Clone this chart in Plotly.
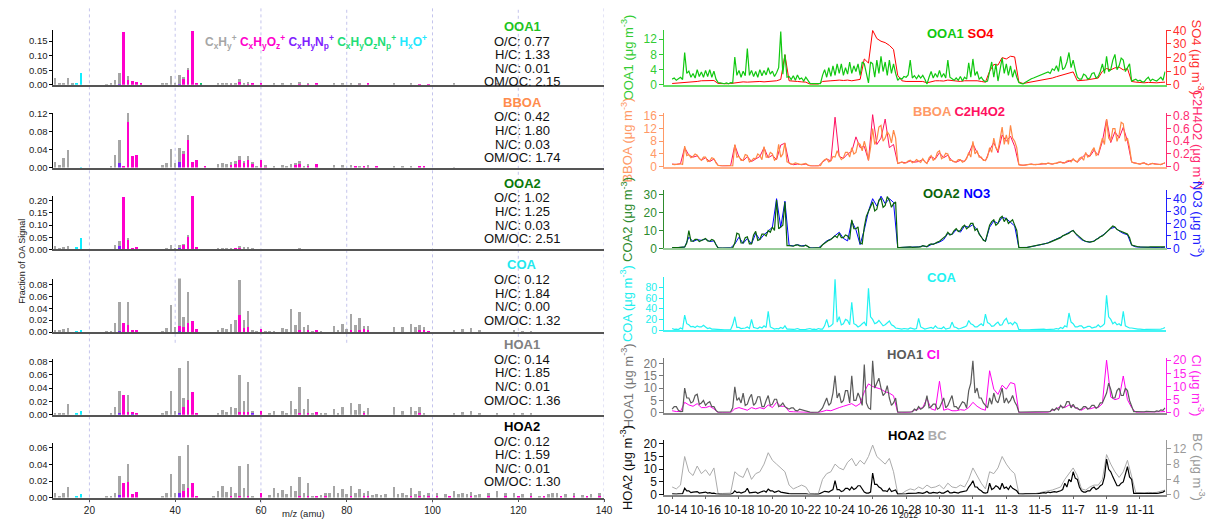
import plotly.graph_objects as go
import pandas as pd

W, H = 1218, 524


def fx(px):
    return px / W


def fy(py):
    return 1 - py / H


FONT = "Liberation Sans"

# ---------------- PMF factor mass spectra (fraction of OA signal) ----------------
# one dict per ion family, keyed by m/z
ooa1_cxhy = {12: 0.024, 13: 0.003, 14: 0.005, 15: 0.022, 16: 0.003, 24: 0.001, 25: 0.002, 26: 0.018,
             27: 0.040, 29: 0.013, 37: 0.002, 38: 0.003, 39: 0.030, 40: 0.003, 41: 0.030, 42: 0.007,
             43: 0.007, 50: 0.002, 51: 0.003, 52: 0.002, 53: 0.004, 54: 0.002, 55: 0.010, 56: 0.003,
             57: 0.004, 63: 0.005, 65: 0.003, 67: 0.004, 69: 0.004, 71: 0.003, 77: 0.003, 79: 0.003,
             81: 0.003, 83: 0.002, 91: 0.004, 95: 0.002, 105: 0.002, 115: 0.002}
ooa1_cxhyoz = {28: 0.180, 29: 0.018, 30: 0.014, 31: 0.010, 32: 0.002, 42: 0.020, 43: 0.050, 44: 0.185,
               45: 0.005, 46: 0.001, 53: 0.001, 55: 0.010, 57: 0.003, 58: 0.002, 60: 0.002, 69: 0.002,
               71: 0.002, 73: 0.002, 83: 0.001, 85: 0.002, 97: 0.001, 99: 0.001}
ooa1_cxhynp = {27: 0.002, 41: 0.004}
ooa1_cxhyoznp = {46: 0.001}
ooa1_hxo = {16: 0.001, 17: 0.008, 18: 0.040}

bboa_cxhy = {12: 0.012, 13: 0.005, 14: 0.022, 15: 0.039, 25: 0.002, 26: 0.029, 27: 0.051, 29: 0.021,
             37: 0.005, 38: 0.010, 39: 0.042, 40: 0.011, 41: 0.032, 42: 0.008, 43: 0.012, 50: 0.007,
             51: 0.011, 52: 0.008, 53: 0.007, 54: 0.004, 55: 0.011, 56: 0.004, 57: 0.010, 58: 0.002,
             59: 0.002, 61: 0.002, 63: 0.004, 65: 0.006, 66: 0.004, 67: 0.008, 68: 0.003, 69: 0.006,
             70: 0.003, 71: 0.004, 77: 0.006, 79: 0.005, 81: 0.005, 83: 0.003, 85: 0.002, 91: 0.004,
             93: 0.002, 95: 0.002, 105: 0.001}
bboa_cxhyoz = {28: 0.002, 29: 0.102, 30: 0.026, 31: 0.029, 42: 0.030, 43: 0.061, 44: 0.012, 45: 0.016,
               47: 0.002, 53: 0.005, 54: 0.010, 55: 0.016, 56: 0.011, 57: 0.017, 58: 0.010, 60: 0.016,
               61: 0.003, 68: 0.007, 69: 0.009, 71: 0.005, 73: 0.007, 82: 0.003, 84: 0.002, 85: 0.003,
               87: 0.002, 97: 0.002, 98: 0.002}
bboa_cxhynp = {27: 0.010, 41: 0.012}
bboa_cxhyoznp = {}
bboa_hxo = {18: 0.001}

ooa2_cxhy = {12: 0.013, 13: 0.005, 14: 0.010, 15: 0.015, 26: 0.017, 27: 0.018, 29: 0.005, 38: 0.005,
             39: 0.017, 40: 0.003, 41: 0.013, 42: 0.002, 43: 0.004, 50: 0.003, 51: 0.004, 52: 0.003,
             53: 0.004, 55: 0.003, 56: 0.003, 57: 0.004, 58: 0.002, 67: 0.001, 69: 0.002, 77: 0.001}
ooa2_cxhyoz = {28: 0.215, 29: 0.040, 30: 0.004, 31: 0.008, 42: 0.020, 43: 0.055, 44: 0.221, 45: 0.008,
               54: 0.003, 55: 0.010, 56: 0.004, 57: 0.004, 58: 0.003, 60: 0.002, 69: 0.002, 71: 0.001,
               73: 0.002, 85: 0.001, 97: 0.001}
ooa2_cxhynp = {27: 0.015, 30: 0.002, 41: 0.005}
ooa2_cxhyoznp = {46: 0.001, 80: 0.001}
ooa2_hxo = {17: 0.010, 18: 0.045}

coa_cxhy = {12: 0.003, 13: 0.003, 14: 0.005, 15: 0.007, 24: 0.002, 25: 0.002, 26: 0.015, 27: 0.050,
            29: 0.039, 37: 0.002, 38: 0.006, 39: 0.045, 40: 0.009, 41: 0.080, 42: 0.017, 43: 0.052,
            50: 0.004, 51: 0.007, 52: 0.005, 53: 0.014, 54: 0.020, 55: 0.060, 56: 0.014, 57: 0.028,
            58: 0.003, 59: 0.002, 61: 0.002, 62: 0.002, 63: 0.002, 65: 0.006, 66: 0.005, 67: 0.038,
            68: 0.012, 69: 0.030, 70: 0.009, 71: 0.008, 72: 0.002, 74: 0.002, 77: 0.010, 78: 0.004,
            79: 0.014, 80: 0.005, 81: 0.028, 82: 0.012, 83: 0.020, 84: 0.006, 85: 0.006, 91: 0.008,
            93: 0.008, 95: 0.014, 96: 0.008, 97: 0.009, 98: 0.004, 105: 0.004, 107: 0.005, 109: 0.006,
            111: 0.003, 119: 0.003, 121: 0.002, 123: 0.002}
coa_cxhyoz = {28: 0.015, 29: 0.012, 30: 0.003, 31: 0.004, 41: 0.008, 42: 0.009, 43: 0.015, 44: 0.019,
              45: 0.005, 55: 0.028, 56: 0.006, 57: 0.008, 60: 0.005, 69: 0.003, 71: 0.004, 73: 0.003,
              81: 0.003, 83: 0.004, 84: 0.005, 85: 0.004, 97: 0.003, 98: 0.004, 99: 0.002}
coa_cxhynp = {27: 0.001, 30: 0.001, 41: 0.002}
coa_cxhyoznp = {}
coa_hxo = {17: 0.002, 18: 0.003}

hoa1_cxhy = {12: 0.002, 13: 0.001, 14: 0.003, 15: 0.016, 25: 0.002, 26: 0.012, 27: 0.033, 29: 0.025,
             37: 0.002, 38: 0.005, 39: 0.035, 40: 0.006, 41: 0.067, 42: 0.014, 43: 0.058, 50: 0.003,
             51: 0.007, 52: 0.004, 53: 0.012, 54: 0.010, 55: 0.056, 56: 0.016, 57: 0.045, 58: 0.001,
             62: 0.002, 63: 0.006, 65: 0.006, 66: 0.003, 67: 0.020, 68: 0.009, 69: 0.038, 70: 0.008,
             71: 0.021, 72: 0.003, 74: 0.002, 75: 0.002, 77: 0.009, 78: 0.003, 79: 0.011, 81: 0.017,
             82: 0.007, 83: 0.016, 84: 0.003, 85: 0.010, 91: 0.011, 93: 0.006, 95: 0.012, 96: 0.005,
             97: 0.010, 98: 0.002, 105: 0.003, 107: 0.004, 109: 0.005, 111: 0.002, 115: 0.002,
             119: 0.002, 121: 0.001, 123: 0.001}
hoa1_cxhyoz = {28: 0.030, 29: 0.004, 30: 0.003, 31: 0.003, 42: 0.011, 43: 0.022, 44: 0.034, 45: 0.003,
               55: 0.004, 56: 0.004, 57: 0.004, 60: 0.006, 69: 0.003, 71: 0.003, 73: 0.004, 84: 0.003,
               97: 0.002}
hoa1_cxhynp = {27: 0.002, 30: 0.001, 41: 0.003, 58: 0.003}
hoa1_cxhyoznp = {}
hoa1_hxo = {17: 0.002, 18: 0.005}

hoa2_cxhy = {12: 0.006, 13: 0.002, 14: 0.006, 15: 0.013, 24: 0.001, 25: 0.001, 26: 0.006, 27: 0.023,
             29: 0.022, 37: 0.002, 38: 0.006, 39: 0.029, 40: 0.006, 41: 0.045, 42: 0.008, 43: 0.052,
             49: 0.001, 50: 0.008, 51: 0.014, 52: 0.007, 53: 0.011, 54: 0.005, 55: 0.036, 56: 0.011,
             57: 0.039, 58: 0.002, 62: 0.003, 63: 0.011, 64: 0.005, 65: 0.009, 66: 0.004, 67: 0.014,
             68: 0.008, 69: 0.023, 70: 0.006, 71: 0.016, 72: 0.002, 74: 0.003, 75: 0.004, 76: 0.005,
             77: 0.014, 78: 0.005, 79: 0.010, 80: 0.004, 81: 0.012, 82: 0.006, 83: 0.010, 84: 0.004,
             85: 0.006, 86: 0.003, 87: 0.004, 88: 0.003, 89: 0.004, 91: 0.013, 92: 0.004, 93: 0.006,
             94: 0.003, 95: 0.009, 96: 0.004, 97: 0.006, 98: 0.003, 99: 0.004, 101: 0.003, 103: 0.004,
             105: 0.008, 106: 0.004, 107: 0.006, 108: 0.004, 109: 0.005, 110: 0.003, 111: 0.004,
             113: 0.003, 115: 0.008, 117: 0.003, 119: 0.005, 121: 0.004, 123: 0.004, 125: 0.002,
             127: 0.004, 128: 0.005, 129: 0.006, 131: 0.004, 133: 0.004, 135: 0.003, 137: 0.004,
             139: 0.004}
hoa2_cxhyoz = {28: 0.017, 29: 0.019, 30: 0.004, 31: 0.007, 42: 0.008, 43: 0.012, 44: 0.018, 45: 0.002,
               53: 0.002, 55: 0.002, 57: 0.002, 60: 0.006, 69: 0.002, 71: 0.002, 73: 0.002, 75: 0.002,
               81: 0.002, 84: 0.002, 85: 0.002, 95: 0.002, 97: 0.002, 99: 0.002, 101: 0.002, 104: 0.002,
               109: 0.002, 113: 0.002, 117: 0.002, 120: 0.002, 123: 0.002, 126: 0.002, 130: 0.002,
               133: 0.002, 136: 0.002, 139: 0.002}
hoa2_cxhynp = {27: 0.003, 41: 0.005}
hoa2_cxhyoznp = {}
hoa2_hxo = {17: 0.001, 18: 0.004}

factor_names = ["OOA1", "BBOA", "OOA2", "COA", "HOA1", "HOA2"]
factor_colors = ["#1FC41F", "#FF8C4C", "#0A7A0A", "#22E8EE", "#808080", "#000000"]
oc_ratio = [0.77, 0.42, 1.02, 0.12, 0.14, 0.12]
hc_ratio = [1.33, 1.80, 1.25, 1.84, 1.85, 1.59]
nc_ratio = [0.01, 0.03, 0.03, 0.00, 0.01, 0.01]
omoc_ratio = [2.15, 1.74, 2.51, 1.32, 1.36, 1.30]

spectra = [
    (ooa1_hxo, ooa1_cxhynp, ooa1_cxhyoz, ooa1_cxhyoznp, ooa1_cxhy),
    (bboa_hxo, bboa_cxhynp, bboa_cxhyoz, bboa_cxhyoznp, bboa_cxhy),
    (ooa2_hxo, ooa2_cxhynp, ooa2_cxhyoz, ooa2_cxhyoznp, ooa2_cxhy),
    (coa_hxo, coa_cxhynp, coa_cxhyoz, coa_cxhyoznp, coa_cxhy),
    (hoa1_hxo, hoa1_cxhynp, hoa1_cxhyoz, hoa1_cxhyoznp, hoa1_cxhy),
    (hoa2_hxo, hoa2_cxhynp, hoa2_cxhyoz, hoa2_cxhyoznp, hoa2_cxhy),
]
# stacking order bottom -> top
family_colors = ["#10EEFF", "#7F22FF", "#FF00CC", "#00CC66", "#A6A6A6"]

# panel geometry: (pixel of zero line, pixel of top, y max, tick step)
spec_panels = [(80, 24, 0.187, 0.05), (165, 109, 0.122, 0.04), (249, 194, 0.22, 0.05),
               (334, 279, 0.0898, 0.02), (419, 362, 0.083, 0.02), (504, 448, 0.066, 0.02)]
spec_name_y = [20, 98, 181, 265, 347, 431]

# ---------------- time series ----------------
# factor concentrations: 3-hourly from 2012-10-14 00:00, one row per day
ooa1 = [[1.5, 1.8, 1.2, 1.6, 2.0, 1.4, 8.5, 3.0], [3.6, 2.0, 3.0, 1.8, 4.0, 2.2, 3.4, 2.0],
        [3.8, 2.2, 4.0, 2.0, 3.6, 1.5, 0.6, 0.5], [0.4, 0.3, 0.5, 0.3, 0.6, 0.5, 7.3, 2.5],
        [3.8, 2.0, 3.6, 2.4, 9.5, 2.5, 3.8, 2.2], [3.5, 2.0, 4.0, 2.4, 3.8, 2.6, 4.5, 2.8],
        [3.6, 2.2, 3.2, 4.5, 14.0, 2.8, 8.0, 2.0], [2.2, 1.4, 2.4, 1.2, 2.6, 1.5, 1.8, 1.0],
        [2.0, 1.2, 0.4, 0.3, 0.3, 0.2, 0.2, 0.3], [2.5, 4.0, 2.0, 4.5, 2.2, 5.0, 2.5, 5.5],
        [3.0, 5.5, 2.5, 4.5, 2.8, 6.0, 3.0, 5.0], [3.5, 5.5, 2.5, 6.0, 5.5, 3.0, 0.5, 6.0],
        [5.5, 2.0, 6.5, 3.0, 7.5, 3.5, 6.0, 2.5], [6.5, 3.0, 5.5, 3.0, 1.2, 1.8, 1.5, 2.2],
        [2.0, 2.6, 6.5, 1.8, 2.4, 1.6, 2.5, 1.8], [2.5, 1.5, 0.2, 2.0, 3.5, 1.8, 3.0, 2.0],
        [3.8, 2.0, 3.0, 1.8, 6.5, 2.0, 1.5, 1.2], [1.8, 1.2, 2.2, 1.0, 2.0, 1.5, 5.8, 2.0],
        [6.8, 2.5, 3.5, 1.5, 2.0, 1.2, 0.8, 1.0], [3.5, 6.0, 2.0, 5.5, 1.0, 4.5, 7.0, 3.0],
        [5.5, 2.5, 5.0, 2.0, 4.0, 2.0, 0.6, 0.4], [0.2, 0.6, 1.0, 1.4, 1.6, 1.8, 2.0, 2.4],
        [2.5, 2.8, 3.0, 3.2, 3.4, 3.0, 4.2, 3.8], [5.0, 3.5, 7.5, 4.0, 4.5, 6.0, 8.5, 4.5],
        [6.5, 4.0, 2.0, 1.5, 1.5, 2.8, 2.5, 1.5], [1.8, 3.0, 3.2, 1.8, 2.2, 3.5, 5.5, 3.0],
        [7.5, 3.5, 4.0, 6.5, 8.0, 4.0, 5.0, 7.0], [6.5, 3.5, 4.5, 5.5, 1.0, 1.2, 1.5, 1.0],
        [1.2, 0.8, 0.8, 1.5, 2.0, 1.0, 1.5, 1.2], [1.0, 1.5, 2.0, 1.2, 3.5]]
bboa = [[0.8, 0.6, 0.7, 0.9, 0.9, 0.7, 6.5, 3.5], [3.8, 2.8, 3.2, 4.0, 3.6, 2.5, 2.0, 3.0],
        [3.0, 1.6, 1.8, 2.8, 2.5, 1.2, 0.4, 0.3], [0.2, 0.2, 0.2, 0.3, 0.3, 0.2, 7.0, 3.0],
        [3.2, 2.0, 2.0, 3.8, 3.5, 1.5, 1.8, 2.6], [2.5, 4.0, 3.5, 2.2, 6.3, 3.0, 3.0, 4.5],
        [4.0, 2.0, 2.5, 7.0, 3.0, 4.0, 7.5, 1.5], [1.2, 0.8, 0.8, 1.2, 1.0, 0.7, 0.7, 0.9],
        [1.0, 0.5, 0.3, 0.2, 0.2, 0.2, 0.2, 0.3], [1.5, 2.2, 2.5, 1.5, 1.8, 3.2, 3.0, 5.0],
        [3.5, 2.2, 2.8, 4.5, 4.5, 3.0, 6.0, 4.0], [4.5, 7.5, 7.0, 5.0, 8.0, 5.5, 2.0, 6.0],
        [12.0, 7.0, 8.5, 12.5, 13.0, 8.0, 9.0, 11.0], [10.0, 7.5, 11.5, 9.0, 1.0, 1.2, 1.5, 1.0],
        [1.2, 1.8, 2.0, 1.2, 1.5, 2.2, 1.8, 1.3], [2.5, 1.5, 1.0, 2.8, 3.5, 2.0, 2.5, 4.5],
        [5.0, 2.5, 3.0, 4.2, 4.0, 2.0, 2.0, 1.5], [1.5, 2.2, 2.2, 1.4, 1.8, 2.5, 4.5, 3.0],
        [8.0, 4.0, 5.0, 3.0, 3.0, 2.0, 2.0, 3.0], [6.0, 4.5, 9.0, 6.0, 5.0, 8.5, 12.5, 7.0],
        [10.0, 7.0, 13.0, 9.0, 8.0, 6.0, 0.6, 0.5], [0.4, 0.5, 0.6, 0.7, 0.8, 0.6, 0.6, 0.7],
        [0.8, 1.0, 1.0, 0.8, 1.2, 0.9, 0.8, 1.0], [1.0, 1.4, 1.5, 1.1, 1.2, 1.8, 2.0, 1.5],
        [2.5, 1.8, 1.5, 2.6, 3.0, 2.0, 4.5, 3.0], [3.5, 5.0, 6.0, 3.5, 4.0, 6.5, 9.0, 7.0],
        [15.0, 9.0, 8.0, 12.0, 12.0, 8.0, 10.0, 14.0], [13.5, 8.0, 9.0, 6.0, 1.5, 1.2, 1.0, 0.9],
        [0.8, 1.1, 1.2, 0.7, 0.6, 0.9, 1.0, 0.8], [0.8, 0.6, 0.7, 1.0, 1.2]]
ooa2 = [[0.5, 0.4, 0.4, 0.5, 0.6, 0.5, 0.8, 3.0], [10.0, 4.0, 4.0, 5.0, 5.0, 3.8, 4.5, 5.0],
        [5.5, 4.2, 4.0, 5.0, 4.5, 2.0, 0.3, 0.2], [0.2, 0.2, 0.2, 0.2, 0.3, 0.3, 3.0, 8.5],
        [8.0, 3.0, 3.0, 6.0, 6.5, 2.5, 2.5, 7.5], [9.5, 4.5, 5.0, 8.0, 8.0, 7.0, 10.0, 9.0],
        [12.0, 10.0, 27.0, 11.0, 12.0, 13.0, 26.0, 1.5], [1.5, 1.2, 1.2, 1.8, 2.0, 1.4, 1.5, 1.2],
        [1.8, 1.0, 0.3, 0.2, 0.2, 0.2, 0.2, 0.5], [2.0, 3.0, 4.0, 4.5, 5.0, 6.0, 7.0, 6.0],
        [8.5, 6.0, 6.0, 7.5, 7.0, 5.0, 16.0, 11.0], [11.0, 12.0, 3.0, 2.5, 12.0, 18.0, 21.0, 24.0],
        [26.0, 21.0, 22.0, 27.0, 28.0, 23.0, 24.0, 29.0], [27.0, 23.0, 25.0, 26.0, 0.5, 0.5, 0.6, 0.6],
        [0.6, 0.7, 0.8, 0.6, 0.7, 0.9, 1.0, 0.8], [1.5, 1.2, 1.0, 2.0, 2.5, 2.2, 3.0, 3.5],
        [4.0, 5.0, 5.5, 7.0, 9.0, 7.5, 8.0, 10.0], [11.0, 9.5, 10.0, 12.0, 13.0, 11.0, 12.0, 14.0],
        [14.0, 10.0, 11.0, 8.0, 6.5, 4.5, 4.0, 8.0], [13.0, 15.0, 16.0, 13.0, 14.0, 17.0, 18.0, 15.0],
        [17.0, 14.0, 15.0, 16.0, 13.0, 10.0, 0.5, 0.4], [0.4, 0.5, 0.6, 0.8, 1.0, 1.2, 1.5, 1.8],
        [2.0, 2.2, 2.5, 2.8, 3.0, 3.5, 4.0, 4.5], [5.0, 5.5, 6.0, 7.0, 7.5, 8.0, 8.5, 9.5],
        [10.0, 8.5, 7.5, 6.0, 5.0, 4.5, 4.0, 3.8], [3.5, 3.8, 4.0, 5.0, 5.5, 6.5, 7.0, 8.0],
        [9.0, 10.5, 11.0, 12.5, 12.0, 10.5, 10.0, 9.5], [9.0, 8.5, 8.0, 6.0, 2.0, 1.5, 1.0, 0.9],
        [0.8, 0.7, 0.6, 0.6, 0.7, 0.8, 0.8, 0.7], [0.6, 0.5, 0.5, 0.7, 0.8]]
coa = [[3.0, 1.5, 2.0, 1.0, 4.0, 2.0, 28.0, 12.0], [10.0, 6.0, 7.0, 5.0, 8.0, 6.0, 6.0, 9.0],
       [6.0, 3.0, 4.0, 2.0, 2.0, 1.5, 1.0, 0.8], [0.5, 0.4, 0.5, 0.6, 0.8, 10.0, 25.0, 5.0],
       [5.0, 3.0, 3.5, 4.0, 6.0, 3.0, 20.0, 5.0], [4.0, 3.0, 6.0, 4.0, 8.0, 5.0, 35.0, 6.0],
       [4.0, 2.0, 3.0, 2.5, 5.0, 3.0, 8.0, 2.0], [2.0, 1.2, 1.5, 2.0, 3.0, 1.5, 1.0, 1.2],
       [1.5, 2.5, 3.0, 1.5, 2.0, 1.0, 3.0, 2.0], [2.0, 8.0, 20.0, 6.0, 8.0, 12.0, 95.0, 15.0],
       [25.0, 10.0, 12.0, 20.0, 18.0, 10.0, 52.0, 12.0], [10.0, 6.0, 8.0, 12.0, 15.0, 8.0, 78.0, 25.0],
       [20.0, 12.0, 14.0, 18.0, 12.0, 8.0, 10.0, 14.0], [17.0, 10.0, 8.0, 4.0, 3.0, 2.0, 2.0, 3.0],
       [3.0, 2.0, 4.0, 2.5, 2.0, 3.0, 22.0, 6.0], [4.0, 2.0, 3.0, 4.0, 5.0, 3.0, 8.0, 4.0],
       [4.0, 3.0, 6.0, 2.0, 3.0, 4.0, 15.0, 6.0], [5.0, 2.5, 3.0, 4.0, 6.0, 8.0, 18.0, 12.0],
       [10.0, 6.0, 6.0, 9.0, 12.0, 8.0, 30.0, 14.0], [12.0, 7.0, 8.0, 12.0, 15.0, 9.0, 10.0, 18.0],
       [22.0, 12.0, 14.0, 10.0, 15.0, 12.0, 1.0, 0.8], [0.5, 0.8, 1.0, 0.6, 0.8, 1.2, 1.5, 1.0],
       [1.0, 1.5, 2.0, 1.0, 1.0, 0.8, 0.8, 2.0], [3.0, 2.0, 5.0, 3.0, 8.0, 6.0, 32.0, 15.0],
       [12.0, 6.0, 6.0, 8.0, 8.0, 4.0, 5.0, 7.0], [7.0, 4.0, 5.0, 6.0, 10.0, 6.0, 8.0, 12.0],
       [65.0, 25.0, 20.0, 12.0, 15.0, 10.0, 12.0, 8.0], [35.0, 8.0, 6.0, 4.0, 4.0, 3.0, 3.0, 2.0],
       [2.0, 1.0, 1.0, 1.5, 1.5, 0.8, 0.8, 1.0], [1.0, 1.5, 2.0, 3.0, 5.0]]
hoa1 = [[1.5, 2.5, 2.5, 1.0, 0.5, 0.6, 10.0, 6.0], [6.0, 4.0, 4.5, 7.0, 7.5, 3.5, 4.0, 5.0],
        [3.0, 4.0, 4.5, 2.5, 2.5, 1.0, 0.3, 0.3], [0.3, 0.2, 0.2, 0.3, 0.4, 2.0, 10.5, 5.0],
        [6.0, 4.0, 8.0, 3.0, 3.5, 6.0, 7.5, 3.0], [4.0, 6.5, 6.5, 2.5, 2.5, 5.0, 7.0, 3.0],
        [3.5, 5.5, 5.5, 2.5, 3.0, 4.0, 2.5, 2.0], [1.5, 2.0, 2.0, 1.0, 0.8, 1.5, 1.2, 1.0],
        [0.8, 0.5, 0.3, 0.2, 0.2, 0.3, 0.3, 1.0], [2.0, 4.0, 6.0, 3.0, 4.0, 8.0, 15.0, 6.0],
        [8.0, 4.0, 5.0, 9.0, 9.0, 4.0, 15.0, 5.0], [5.0, 8.0, 6.0, 3.0, 19.5, 4.0, 2.0, 1.5],
        [21.0, 10.0, 12.0, 14.0, 10.0, 7.0, 8.0, 11.0], [6.0, 3.0, 4.0, 6.0, 0.3, 0.3, 0.3, 0.3],
        [0.3, 0.3, 0.3, 0.4, 1.5, 1.0, 2.5, 1.5], [2.0, 3.0, 7.0, 2.0, 2.5, 3.5, 3.5, 1.5],
        [2.0, 4.0, 6.0, 2.0, 3.0, 5.0, 7.0, 2.5], [2.5, 1.5, 3.0, 4.5, 4.0, 2.0, 9.0, 12.0],
        [21.0, 8.0, 10.0, 6.0, 6.0, 4.0, 3.0, 2.0], [6.0, 3.5, 8.0, 5.0, 4.0, 7.0, 10.0, 4.0],
        [6.0, 4.0, 5.0, 7.0, 4.5, 3.0, 0.3, 0.3], [0.3, 0.3, 0.3, 0.3, 0.3, 0.3, 0.3, 0.3],
        [0.3, 0.3, 0.4, 0.3, 0.3, 0.5, 1.5, 1.0], [2.0, 1.2, 3.0, 2.0, 2.5, 4.5, 4.5, 2.0],
        [3.5, 2.0, 2.0, 1.2, 1.5, 2.5, 2.5, 1.5], [2.0, 3.0, 3.0, 1.8, 2.5, 4.0, 4.0, 6.0],
        [8.0, 12.0, 9.5, 6.0, 6.0, 9.0, 10.0, 7.0], [7.0, 10.0, 9.0, 5.0, 3.0, 0.5, 0.5, 0.4],
        [0.5, 0.4, 0.4, 0.6, 0.6, 0.5, 0.5, 0.4], [0.8, 0.6, 1.2, 1.0, 2.0]]
hoa2 = [[0.3, 0.2, 0.2, 0.3, 0.3, 0.4, 2.5, 1.5], [1.5, 0.8, 1.0, 1.2, 1.2, 0.6, 0.8, 1.0],
        [1.0, 0.6, 0.8, 0.5, 0.6, 0.3, 0.1, 0.1], [0.1, 0.1, 0.1, 0.1, 0.1, 0.5, 1.5, 0.8],
        [1.0, 0.6, 0.8, 1.2, 2.5, 0.7, 0.8, 1.0], [1.0, 0.5, 0.7, 1.2, 1.5, 1.0, 2.2, 1.5],
        [1.5, 0.9, 1.2, 1.5, 1.0, 0.8, 0.8, 0.5], [0.4, 0.3, 0.3, 0.5, 0.5, 0.3, 0.3, 0.3],
        [0.3, 0.2, 0.1, 0.1, 0.1, 0.1, 0.1, 0.5], [1.0, 1.3, 1.2, 1.0, 1.5, 2.0, 5.5, 2.0],
        [2.0, 1.2, 1.5, 2.5, 2.5, 1.8, 3.0, 2.0], [2.5, 3.5, 3.5, 2.0, 1.0, 0.6, 0.6, 1.0],
        [8.5, 4.0, 4.0, 3.0, 2.5, 1.5, 1.5, 1.2], [2.5, 1.2, 1.5, 1.8, 0.2, 0.2, 0.2, 0.3],
        [0.3, 0.5, 0.5, 0.4, 0.4, 0.6, 0.8, 0.5], [0.5, 0.8, 1.2, 0.6, 0.6, 0.9, 0.8, 0.6],
        [1.0, 0.6, 0.6, 1.2, 1.5, 0.7, 0.7, 1.0], [0.8, 0.6, 1.0, 1.2, 1.2, 1.5, 3.0, 4.0],
        [5.5, 3.0, 3.0, 2.0, 1.5, 0.8, 0.6, 0.8], [4.5, 2.0, 2.5, 3.5, 3.0, 2.0, 4.5, 2.5],
        [3.0, 2.0, 3.5, 2.5, 2.0, 1.5, 0.3, 0.2], [0.2, 0.3, 0.3, 0.2, 0.2, 0.3, 0.3, 0.4],
        [0.5, 0.6, 0.8, 0.6, 1.0, 0.8, 1.0, 1.2], [1.0, 1.2, 1.5, 2.0, 4.5, 3.0, 6.0, 5.0],
        [9.0, 6.5, 6.0, 3.0, 1.5, 1.0, 1.0, 1.5], [1.5, 2.5, 3.0, 2.0, 2.5, 3.5, 4.0, 7.0],
        [14.0, 10.0, 9.0, 7.0, 5.0, 3.5, 3.5, 4.5], [5.0, 8.0, 11.0, 7.0, 6.0, 0.5, 0.5, 0.4],
        [0.4, 0.3, 0.3, 0.4, 0.5, 0.4, 0.4, 0.3], [0.5, 0.6, 0.8, 1.0, 1.5]]

# tracer species: 6-hourly from 2012-10-14 00:00, one row per day
so4 = [[1.0, 1.2, 1.5, 2.0], [2.2, 2.0, 2.5, 3.0], [3.0, 2.8, 3.2, 1.0], [0.8, 0.8, 1.0, 1.5],
       [2.0, 2.2, 2.0, 2.2], [2.0, 2.5, 2.2, 2.5], [2.5, 3.0, 4.0, 22.0], [3.0, 2.5, 2.5, 2.2],
       [2.0, 0.5, 0.5, 0.5], [2.5, 3.0, 3.0, 3.2], [3.5, 3.2, 3.5, 3.0], [3.5, 4.0, 19.0, 16.0],
       [40.0, 34.0, 32.0, 31.0], [29.0, 26.0, 7.0, 3.0], [2.5, 2.5, 2.8, 2.5], [2.5, 1.5, 2.5, 3.0],
       [3.0, 2.8, 3.5, 3.0], [2.5, 2.5, 3.0, 3.0], [3.5, 3.0, 2.5, 2.0], [10.0, 15.0, 14.5, 20.0],
       [19.0, 21.0, 20.5, 2.0], [1.0, 1.5, 2.0, 2.5], [3.0, 3.5, 4.0, 5.0], [6.0, 7.0, 8.0, 9.0],
       [9.5, 3.0, 3.0, 3.5], [4.0, 4.5, 5.0, 10.0], [12.0, 11.0, 12.5, 13.0], [11.0, 12.0, 2.5, 2.0],
       [1.5, 1.5, 1.8, 1.5], [1.5, 1.8, 2.0]]
c2h4o2 = [[0.04, 0.035, 0.045, 0.30], [0.18, 0.15, 0.17, 0.10], [0.14, 0.08, 0.12, 0.02],
          [0.01, 0.01, 0.015, 0.34], [0.15, 0.09, 0.16, 0.08], [0.12, 0.16, 0.30, 0.14],
          [0.18, 0.11, 0.34, 0.37], [0.05, 0.03, 0.04, 0.03], [0.04, 0.01, 0.01, 0.01],
          [0.07, 0.12, 0.09, 0.78], [0.16, 0.13, 0.20, 0.24], [0.47, 0.30, 0.32, 0.10],
          [0.82, 0.35, 0.45, 0.75], [0.30, 0.35, 0.05, 0.07], [0.06, 0.09, 0.07, 0.08],
          [0.11, 0.05, 0.16, 0.12], [0.22, 0.14, 0.18, 0.09], [0.07, 0.10, 0.08, 0.20],
          [0.36, 0.22, 0.13, 0.09], [0.26, 0.38, 0.22, 0.50], [0.40, 0.48, 0.32, 0.03],
          [0.02, 0.03, 0.04, 0.03], [0.04, 0.05, 0.05, 0.04], [0.05, 0.07, 0.06, 0.09],
          [0.11, 0.07, 0.14, 0.20], [0.16, 0.26, 0.18, 0.40], [0.75, 0.38, 0.55, 0.45],
          [0.62, 0.40, 0.07, 0.05], [0.04, 0.06, 0.03, 0.05], [0.04, 0.03, 0.06]]
no3 = [[0.5, 0.5, 0.8, 1.0], [9.0, 5.5, 7.0, 6.5], [7.5, 5.5, 6.0, 0.3], [0.2, 0.2, 0.4, 3.5],
       [9.0, 4.0, 8.0, 3.5], [12.0, 7.0, 11.0, 14.0], [17.0, 40.0, 17.0, 38.0], [2.5, 2.0, 3.0, 2.0],
       [2.5, 0.4, 0.3, 0.3], [3.0, 6.0, 7.5, 10.0], [13.0, 8.0, 6.0, 22.0], [15.0, 3.0, 15.0, 30.0],
       [40.0, 34.0, 42.0, 36.0], [40.0, 37.0, 0.6, 0.8], [0.8, 1.0, 1.0, 1.2], [2.0, 1.2, 3.0, 4.0],
       [5.0, 7.0, 12.0, 11.0], [15.0, 13.0, 18.0, 17.0], [19.0, 15.0, 9.0, 5.5], [17.0, 22.0, 20.0, 25.0],
       [24.0, 21.0, 18.0, 0.7], [0.5, 0.8, 1.4, 2.0], [3.0, 3.5, 4.5, 6.0], [7.0, 9.0, 11.0, 12.5],
       [14.5, 10.0, 7.0, 5.5], [5.0, 6.0, 8.0, 10.5], [13.0, 16.0, 17.0, 14.0], [12.0, 11.0, 2.5, 1.2],
       [1.0, 0.8, 0.9, 1.0], [0.8, 0.6, 1.0]]
cl = [[0.8, 0.5, 0.5, 4.0], [3.0, 2.5, 3.5, 2.0], [2.0, 2.5, 1.5, 0.1], [0.1, 0.1, 0.1, 1.5],
      [2.0, 1.5, 1.0, 2.0], [1.5, 2.0, 1.5, 3.0], [2.0, 4.0, 2.5, 2.5], [0.5, 0.4, 0.3, 0.3],
      [0.3, 0.1, 0.1, 0.1], [0.5, 1.0, 0.8, 1.5], [2.0, 2.5, 3.0, 3.5], [2.5, 3.5, 8.0, 11.0],
      [10.0, 9.5, 9.0, 8.0], [7.5, 6.5, 0.1, 0.1], [0.1, 0.2, 1.0, 1.5], [2.0, 5.5, 1.5, 1.0],
      [12.0, 1.0, 1.5, 0.8], [0.8, 1.2, 1.0, 2.0], [4.0, 2.5, 1.5, 1.0], [16.0, 9.0, 7.0, 10.5],
      [9.0, 11.5, 11.0, 0.1], [0.1, 0.1, 0.1, 0.1], [0.1, 0.2, 0.2, 1.0], [1.5, 2.5, 2.0, 3.0],
      [2.5, 1.5, 1.0, 2.0], [1.5, 2.0, 2.0, 3.5], [20.0, 6.0, 5.0, 5.5], [14.0, 5.0, 2.0, 0.2],
      [0.2, 0.2, 0.3, 0.2], [0.3, 0.4, 0.5]]
bc = [[2.0, 1.5, 2.5, 10.0], [6.0, 5.0, 7.5, 5.5], [6.5, 5.0, 7.0, 0.3], [0.3, 0.3, 0.4, 6.0],
      [5.0, 4.5, 7.0, 4.0], [5.5, 6.0, 8.0, 11.0], [9.0, 8.0, 7.0, 6.0], [2.5, 1.5, 2.0, 2.5],
      [2.0, 0.3, 0.3, 0.3], [4.0, 5.5, 6.0, 8.0], [7.0, 6.5, 8.5, 9.5], [7.5, 9.0, 8.0, 10.0],
      [13.0, 10.0, 9.0, 8.0], [9.5, 6.0, 0.3, 0.3], [1.0, 1.5, 1.2, 2.0], [1.5, 2.5, 1.8, 2.0],
      [2.5, 1.5, 3.0, 2.0], [1.8, 2.5, 2.0, 4.0], [7.0, 5.0, 3.0, 1.5], [6.0, 5.5, 7.0, 10.0],
      [8.0, 6.5, 5.5, 0.3], [0.3, 0.3, 0.3, 0.3], [0.5, 0.8, 1.0, 1.2], [1.5, 2.0, 4.0, 5.5],
      [7.0, 5.0, 1.5, 1.2], [2.0, 2.5, 2.5, 4.0], [10.5, 8.0, 6.0, 4.5], [6.0, 9.0, 5.0, 0.5],
      [0.5, 0.4, 0.6, 0.5], [0.6, 0.8, 1.2]]

date_ticks = ["2012-10-14", "2012-10-16", "2012-10-18", "2012-10-20", "2012-10-22", "2012-10-24",
              "2012-10-26", "2012-10-28", "2012-10-30", "2012-11-01", "2012-11-03", "2012-11-05",
              "2012-11-07", "2012-11-09", "2012-11-11"]
date_labels = ["10-14", "10-16", "10-18", "10-20", "10-22", "10-24", "10-26", "10-28", "10-30",
               "11-1", "11-3", "11-5", "11-7", "11-9", "11-11"]
date_range = ["2012-10-13 12:40", "2012-11-12 12:45"]


def flat(rows):
    return [v for r in rows for v in r]


def times(rows):
    step = 24 // len(rows[0])
    return pd.date_range("2012-10-14", periods=len(flat(rows)), freq=f"{step}h")


fig = go.Figure()
layout = dict(width=W, height=H, margin=dict(l=0, r=0, t=0, b=0),
              paper_bgcolor="white", plot_bgcolor="rgba(0,0,0,0)", showlegend=False,
              barmode="stack", hovermode=False,
              font=dict(family=FONT, size=12, color="#000"))
annotations = []
shapes = []

# ---------------- left column: stacked spectra ----------------
for i, (fams, (y0, ytop, ymax, dt)) in enumerate(zip(spectra, spec_panels)):
    k = i + 1
    xn = "x" if k == 1 else f"x{k}"
    yn = "y" if k == 1 else f"y{k}"
    for fam, col in zip(fams, family_colors):
        if not fam:
            continue
        fig.add_trace(go.Bar(x=list(fam.keys()), y=list(fam.values()), width=0.6,
                             marker=dict(color=col, line=dict(width=0)),
                             xaxis=xn, yaxis=yn))
    last = (k == 6)
    layout["xaxis" if k == 1 else f"xaxis{k}"] = dict(
        domain=[fx(47), fx(605)], anchor=yn, range=[11.6, 140], showgrid=False, zeroline=False,
        showline=True, linecolor="#555", linewidth=1.5,
        showticklabels=last, ticks="outside" if last else "", ticklen=3, tickcolor="#555",
        tickvals=[20, 40, 60, 80, 100, 120, 140], tickfont=dict(size=10, color="#222"))
    layout["yaxis" if k == 1 else f"yaxis{k}"] = dict(
        domain=[fy(y0), fy(ytop)], anchor=xn, range=[0, ymax], dtick=dt, tickformat=".2f",
        showgrid=False, zeroline=False, showline=True, linecolor="#000", linewidth=1,
        ticks="outside", ticklen=3, tickcolor="#000", tickfont=dict(size=9.5, color="#222"))
    # factor name and elemental ratios
    ny = spec_name_y[i]
    annotations.append(dict(text=f"<b>{factor_names[i]}</b>", x=fx(522), y=fy(ny), xref="paper",
                            yref="paper", showarrow=False, xanchor="center", yanchor="middle",
                            font=dict(size=13, color=factor_colors[i])))
    lines = [f"O/C: {oc_ratio[i]:.2f}", f"H/C: {hc_ratio[i]:.2f}", f"N/C: {nc_ratio[i]:.2f}",
             f"OM/OC: {omoc_ratio[i]:.2f}"]
    for j, t in enumerate(lines):
        annotations.append(dict(text=t, x=fx(522), y=fy(ny + 15 + 14 * j), xref="paper",
                                yref="paper", showarrow=False, xanchor="center", yanchor="middle",
                                font=dict(size=13, color="#111")))

# dotted m/z gridlines
for m in [20, 60, 100, 140]:
    shapes.append(dict(type="line", xref="x", yref="paper", x0=m, x1=m, y0=fy(510), y1=1,
                       line=dict(color="#C4C4EC", width=1, dash="dot"), layer="below"))
for m in [40, 80, 120]:
    shapes.append(dict(type="line", xref="x", yref="paper", x0=m, x1=m, y0=fy(345), y1=1,
                       line=dict(color="#C4C4EC", width=1, dash="dot"), layer="below"))

# ion family key, one coloured run of text
legend_items = [("C<sub>x</sub>H<sub>y</sub><sup>+</sup>", "#A6A6A6"),
                ("C<sub>x</sub>H<sub>y</sub>O<sub>z</sub><sup>+</sup>", "#FF00CC"),
                ("C<sub>x</sub>H<sub>y</sub>N<sub>p</sub><sup>+</sup>", "#7F22FF"),
                ("C<sub>x</sub>H<sub>y</sub>O<sub>z</sub>N<sub>p</sub><sup>+</sup>", "#22DD77"),
                ("H<sub>x</sub>O<sup>+</sup>", "#22E8FF")]
key_text = " ".join(f"<span style='color:{c}'>{t}</span>" for t, c in legend_items)
annotations.append(dict(text=f"<b>{key_text}</b>", x=fx(199), y=fy(36), xref="paper",
                        yref="paper", showarrow=False, xanchor="left", yanchor="middle",
                        font=dict(size=12)))

annotations.append(dict(text="Fraction of OA Signal", x=fx(15), y=fy(261), xref="paper",
                        yref="paper", showarrow=False, textangle=-90, xanchor="center",
                        yanchor="middle", font=dict(size=9, color="#222")))
annotations.append(dict(text="m/z (amu)", x=fx(300), y=fy(520), xref="paper", yref="paper",
                        showarrow=False, xanchor="center", yanchor="middle",
                        font=dict(size=9.5, color="#222")))

# ---------------- right column: time series ----------------
UG = " (\u03bcg m<sup>-3</sup>)"
# (primary name, data, colour, axis colour, y max, ticks, tick font,
#  secondary name, data, colour, axis colour, y max, ticks,
#  title pixel y, title pixel x, zero px, top px, baseline colour)
ts_panels = [
    ("OOA1", ooa1, "#10C810", "#33CC33", 14.3, [0, 4, 8, 12], 12,
     "SO4", so4, "#FF0000", "#FF3030", 40, [0, 10, 20, 30, 40], 27, 966, 80, 24, "#66DD66"),
    ("BBOA", bboa, "#FF8844", "#FF9966", 16.9, [0, 4, 8, 12, 16], 12,
     "C2H4O2", c2h4o2, "#FF1060", "#FF2A70", 0.845, [0, 0.2, 0.4, 0.6, 0.8], 107, 965, 164, 109,
     "#FFB088"),
    ("OOA2", ooa2, "#0A640A", "#2E8B2E", 32.7, [0, 10, 20, 30], 12,
     "NO3", no3, "#0000FF", "#2020FF", 47, [0, 10, 20, 30, 40], 192, 962, 248, 188, "#99CC99"),
    ("COA", coa, "#22F2F2", "#22EEEE", 100, [0, 20, 40, 60, 80], 10.5,
     None, None, None, None, None, None, 278, 947, 332, 277, "#44F4F4"),
    ("HOA1", hoa1, "#5A5A5A", "#777777", 22, [0, 5, 10, 15, 20], 12,
     "Cl", cl, "#FF00EE", "#FF22EE", 20.7, [0, 5, 10, 15, 20], 357, 919, 417, 361, "#888888"),
    ("HOA2", hoa2, "#000000", "#111111", 21.5, [0, 5, 10, 15, 20], 12,
     "BC", bc, "#ABABAB", "#999999", 14.3, [0, 4, 8, 12], 440, 923, 501, 445, "#888888"),
]

overlay_idx = 13
for i, p in enumerate(ts_panels):
    (pname, pdata, pcol, pax, pmax, pticks, pfs, sname, sdata, scol, sax, smax, sticks,
     ty, tx, y0, ytop, basecol) = p
    k = 7 + i
    xn, yn = f"x{k}", f"y{k}"
    last = (i == len(ts_panels) - 1)
    layout[f"xaxis{k}"] = dict(
        domain=[fx(666), fx(1174)], anchor=yn, type="date", range=date_range,
        showgrid=False, zeroline=False, showline=True, linecolor=basecol, linewidth=1.5,
        tickvals=date_ticks, ticktext=date_labels, showticklabels=last, tickangle=0,
        ticks="outside" if last else "", ticklen=3, tickcolor="#666",
        tickfont=dict(size=12, color="#111"))
    prim_axis = dict(range=[0, pmax], tickvals=pticks, showgrid=False, zeroline=False,
                     showline=True, linecolor=pax, linewidth=1, ticks="outside", ticklen=4,
                     tickcolor=pax, tickfont=dict(size=pfs, color=pax), side="left")
    if sname is None:
        prim_axis.update(domain=[fy(y0), fy(ytop)], anchor=xn)
        layout[f"yaxis{k}"] = prim_axis
        prim_y = yn
    else:
        # tracer on the base axis (right); factor on the overlay axis (left), drawn on top
        layout[f"yaxis{k}"] = dict(
            domain=[fy(y0), fy(ytop)], anchor=xn, side="right", range=[0, smax], tickvals=sticks,
            showgrid=False, zeroline=False, showline=True, linecolor=sax, linewidth=1,
            ticks="outside", ticklen=4, tickcolor=sax, tickfont=dict(size=12, color=sax))
        fig.add_trace(go.Scatter(x=times(sdata), y=flat(sdata), mode="lines",
                                 line=dict(color=scol, width=1), xaxis=xn, yaxis=yn))
        prim_y = f"y{overlay_idx}"
        prim_axis.update(overlaying=yn, anchor=xn)
        layout[f"yaxis{overlay_idx}"] = prim_axis
        overlay_idx += 1
    fig.add_trace(go.Scatter(x=times(pdata), y=flat(pdata), mode="lines",
                             line=dict(color=pcol, width=1.2), xaxis=xn, yaxis=prim_y))

    # panel title
    if sname is None:
        ttl = f"<b><span style='color:{pcol}'>{pname}</span></b>"
    else:
        ttl = (f"<b><span style='color:{pcol if pname != 'BBOA' else pax}'>{pname}</span> "
               f"<span style='color:{scol}'>{sname}</span></b>")
    annotations.append(dict(text=ttl, x=fx(tx), y=fy(ty), xref="paper", yref="paper",
                            showarrow=False, xanchor="center", yanchor="middle",
                            font=dict(size=13)))
    yc = (y0 + ytop) / 2
    left_title = "COA2" if pname == "OOA2" else pname
    annotations.append(dict(text=left_title + UG, x=fx(628), y=fy(yc), xref="paper", yref="paper",
                            showarrow=False, textangle=-90, xanchor="center", yanchor="middle",
                            font=dict(size=13, color=pax)))
    if sname is not None:
        annotations.append(dict(text=sname + UG, x=fx(1207), y=fy(yc), xref="paper",
                                yref="paper", showarrow=False, textangle=90, xanchor="center",
                                yanchor="middle", font=dict(size=13, color=sax)))

annotations.append(dict(text="2012", x=fx(914), y=fy(522), xref="paper", yref="paper",
                        showarrow=False, xanchor="center", yanchor="middle",
                        font=dict(size=8.5, color="#222")))

layout["annotations"] = annotations
layout["shapes"] = shapes
fig.update_layout(**layout)
fig.write_html("out.html")
